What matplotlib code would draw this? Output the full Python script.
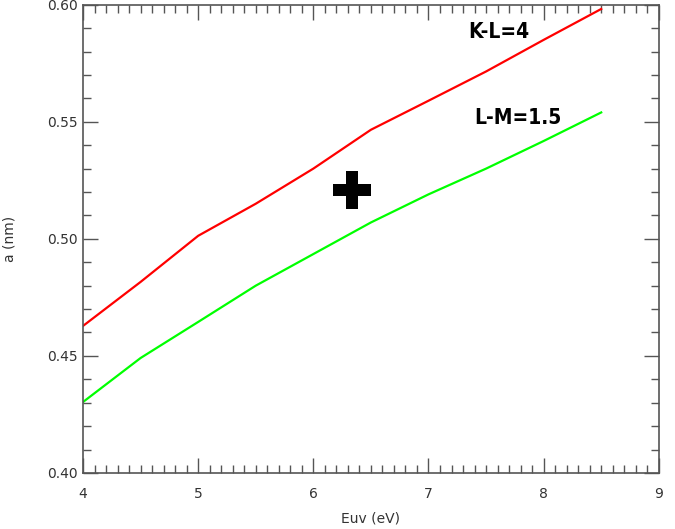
import numpy as np
import matplotlib.pyplot as plt
from matplotlib.path import Path
from matplotlib.ticker import MultipleLocator, FormatStrFormatter

euv = [4.0, 4.5, 5.0, 5.5, 6.0, 6.5, 7.0, 7.5, 8.0, 8.5]
a_kl = [0.4628, 0.4816, 0.5013, 0.5150, 0.5300, 0.5466, 0.5590, 0.5715, 0.5850, 0.5982]
a_lm = [0.4303, 0.4491, 0.4645, 0.4800, 0.4935, 0.5070, 0.5190, 0.5300, 0.5418, 0.5540]

# fat plus sign, arms a third of the width
w = 1 / 6
plus = Path([(-w, 0.5), (w, 0.5), (w, w), (0.5, w), (0.5, -w), (w, -w), (w, -0.5),
             (-w, -0.5), (-w, -w), (-0.5, -w), (-0.5, w), (-w, w), (-w, 0.5)])

fig = plt.figure(figsize=(6.75, 5.29), dpi=100)
ax = fig.add_axes([0.123, 0.106, 0.853, 0.885])

ax.plot(euv, a_kl, color='#ff0000', lw=1.6)
ax.plot(euv, a_lm, color='#00ff00', lw=1.6)
ax.plot(6.335, 0.521, marker=plus, color='black', markersize=27, markeredgewidth=0)

bold = dict(family='DejaVu Sans', fontstretch='condensed', fontweight='bold', fontsize=15,
            ha='center', va='center')
ax.text(7.61, 0.5885, 'K-L=4', **bold)
ax.text(7.78, 0.5518, 'L-M=1.5', **bold)

ax.xaxis.set_major_locator(MultipleLocator(1))
ax.xaxis.set_minor_locator(MultipleLocator(0.1))
ax.yaxis.set_major_locator(MultipleLocator(0.05))
ax.yaxis.set_minor_locator(MultipleLocator(0.01))
ax.yaxis.set_major_formatter(FormatStrFormatter('%.2f'))
ax.set_xlim(4, 9)
ax.set_ylim(0.40, 0.60)
ax.tick_params(which='both', direction='in', top=True, right=True, color='#555555',
               labelsize=10, labelcolor='#333333')
ax.tick_params(which='major', length=11, width=1)
ax.tick_params(which='minor', length=6, width=1)
ax.tick_params(axis='x', pad=10)
for s in ax.spines.values():
    s.set_color('#555555')
    s.set_linewidth(1.2)

ax.set_xlabel('Euv (eV)', fontsize=10, color='#333333', labelpad=8)
ax.set_ylabel('a (nm)', fontsize=10, color='#333333', labelpad=22)

fig.savefig('out.png', dpi=100)
